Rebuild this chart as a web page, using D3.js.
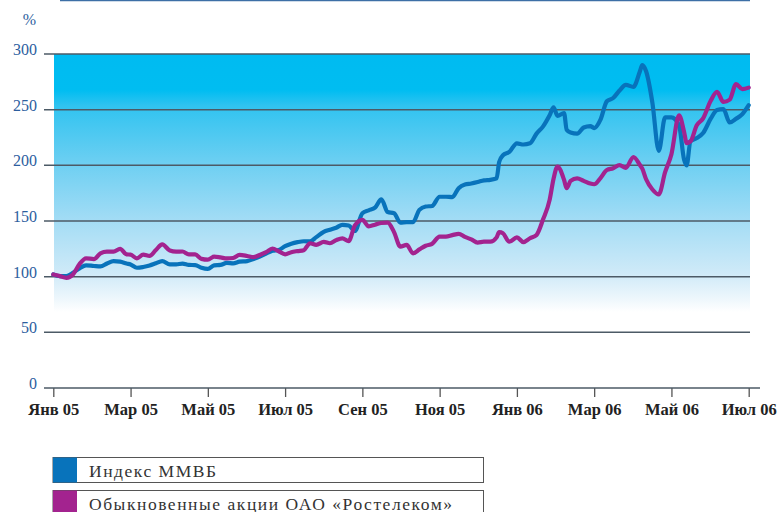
<!DOCTYPE html>
<html>
<head>
<meta charset="utf-8">
<script src="https://cdn.jsdelivr.net/npm/d3@7"></script>
<style>
  body { margin: 0; background: #fff; }
  svg { display: block; }
</style>
</head>
<body>
<svg id="chart" width="783" height="512"></svg>
<script>
// Observation dates shared by both series
const dates = [
  "2005-01-01","2005-01-06","2005-01-11","2005-01-16","2005-01-21","2005-01-26",
  "2005-02-01","2005-02-06","2005-02-11","2005-02-16","2005-02-21","2005-02-26",
  "2005-03-01","2005-03-06","2005-03-11","2005-03-16","2005-03-21","2005-03-26",
  "2005-04-01","2005-04-06","2005-04-11","2005-04-16","2005-04-21","2005-04-26",
  "2005-05-01","2005-05-06","2005-05-11","2005-05-16","2005-05-21","2005-05-26",
  "2005-06-01","2005-06-06","2005-06-11","2005-06-16","2005-06-21","2005-06-26",
  "2005-07-01","2005-07-06","2005-07-11","2005-07-16","2005-07-21","2005-07-26",
  "2005-08-01","2005-08-06","2005-08-11","2005-08-16","2005-08-21","2005-08-26",
  "2005-09-01","2005-09-06","2005-09-11","2005-09-16","2005-09-21","2005-09-26",
  "2005-10-01","2005-10-06","2005-10-11","2005-10-16","2005-10-21","2005-10-26",
  "2005-11-01","2005-11-06","2005-11-11","2005-11-16","2005-11-21","2005-11-26",
  "2005-12-01","2005-12-06","2005-12-11","2005-12-16","2005-12-18","2005-12-21","2005-12-26",
  "2006-01-01","2006-01-06","2006-01-11","2006-01-16","2006-01-21","2006-01-26","2006-01-29",
  "2006-02-01","2006-02-06","2006-02-08","2006-02-11","2006-02-16","2006-02-21","2006-02-26",
  "2006-03-01","2006-03-06","2006-03-11","2006-03-16","2006-03-21","2006-03-26",
  "2006-04-01","2006-04-06","2006-04-08","2006-04-11","2006-04-16","2006-04-21","2006-04-26",
  "2006-05-01","2006-05-07","2006-05-11","2006-05-13","2006-05-16","2006-05-21","2006-05-26",
  "2006-06-01","2006-06-06","2006-06-11","2006-06-16","2006-06-21","2006-06-26",
  "2006-07-01"
];

// Индекс ММВБ, % of the 1 Jan 2005 level
const micex = [
  102, 100.5, 100.5, 103.5, 107.5, 110.2,
  109.6, 109.2, 111.8, 114, 113.5, 111.8,
  111, 108, 108.7, 110, 112, 114,
  111, 111, 111.8, 110.6, 110.4, 108,
  107, 110.2, 110.6, 112.3, 112, 113.5,
  114, 115.8, 118, 120.7, 123.2, 124,
  127.4, 129.6, 131, 131.8, 131.7, 135.5,
  140.3, 142.2, 144, 146.6, 146, 141,
  157, 159.6, 162, 169.5, 158, 157,
  148.5, 149, 149, 160, 163, 163.5,
  171.8, 171.8, 171.5, 179.5, 182.8, 183.7,
  185, 186.5, 187, 188.3, 203, 209, 212,
  219.8, 218.7, 219.8, 228.5, 235, 245, 252,
  244.5, 247, 232, 229.5, 228.5, 234, 235.3,
  233.5, 241, 257.5, 260.5, 267.2, 272.3,
  270.5, 284, 290, 284.5, 256, 213, 243,
  243, 236, 205, 200, 221.5, 224.5, 229,
  241.9, 249.6, 250.5, 238.5, 241.8, 246,
  254
];

// Обыкновенные акции ОАО «Ростелеком», % of the 1 Jan 2005 level
const rostelecom = [
  102, 100.5, 99, 102, 111.3, 116.5,
  115.8, 121, 122.5, 122.5, 125, 120,
  119.8, 116.4, 119.8, 118.6, 124, 129,
  123.5, 122.5, 122.6, 120, 120, 116,
  115.3, 118, 117.3, 116.4, 116.8, 119.5,
  118.6, 117.5, 119.5, 122, 125.3, 122.8,
  120, 122, 123, 123.8, 130, 128.6,
  131.2, 130, 132.8, 134.4, 132, 146,
  151, 145.2, 146.7, 148.2, 148.5, 140,
  127, 128.5, 121, 124.5, 127.8, 129.5,
  136, 136, 137.3, 138.5, 135.7, 133.5,
  130.6, 131.4, 131.4, 135.3, 140, 139, 131.4,
  135.3, 131, 134.5, 137.5, 151.5, 169, 188,
  198.8, 187, 179.5, 186, 188.3, 186, 183.6,
  183, 188.6, 195.8, 197.4, 200.2, 197.8,
  207.5, 200.5, 197, 187.5, 178.3, 173.8, 193.8,
  210, 245, 230, 220, 221.5, 236, 242.2,
  258, 266, 257, 259, 273, 268.5,
  269.8
];

const tickDates = ["2005-01-01","2005-03-01","2005-05-01","2005-07-01","2005-09-01",
                   "2005-11-01","2006-01-01","2006-03-01","2006-05-01","2006-07-01"];
const tickLabels = ["Янв 05","Мар 05","Май 05","Июл 05","Сен 05",
                    "Ноя 05","Янв 06","Мар 06","Май 06","Июл 06"];
const yTicks = [0, 50, 100, 150, 200, 250, 300];
const yUnit = "%";
const seriesNames = ["Индекс ММВБ", "Обыкновенные акции ОАО «Ростелеком»"];
const seriesColors = ["#0873bb", "#a3238f"];

const parse = d3.timeParse("%Y-%m-%d");
const svg = d3.select("#chart");
const serif = "'Liberation Serif', 'DejaVu Serif', serif";

// Two-month ticks are evenly spaced, so the time scale is piecewise over them.
const xLeft = 53.3, xRight = 748.7;
const x = d3.scaleTime()
  .domain(tickDates.map(parse))
  .range(tickDates.map((d, i) => xLeft + i * (xRight - xLeft) / (tickDates.length - 1)));
const y = d3.scaleLinear().domain([0, 300]).range([388, 54]);

const plotLeft = 54, plotRight = 750, gridLeft = 44;

// thin rule across the top
svg.append("line")
  .attr("x1", 60).attr("x2", plotRight).attr("y1", 0.5).attr("y2", 0.5)
  .attr("stroke", "#3d6fa6").attr("stroke-width", 1.5);

// sky gradient behind the plot
const defs = svg.append("defs");
const grad = defs.append("linearGradient")
  .attr("id", "sky").attr("x1", 0).attr("y1", 0).attr("x2", 0).attr("y2", 1);
[[0, "#00bbf1"], [0.14, "#00bdf1"], [0.2, "#30c3f0"], [0.42, "#6ccff2"],
 [0.64, "#a2dcf5"], [0.85, "#cfeaf8"], [0.95, "#eef7fc"], [1, "#ffffff"]]
  .forEach(([o, c]) => grad.append("stop").attr("offset", o).attr("stop-color", c));

svg.append("rect")
  .attr("x", plotLeft).attr("y", y(300))
  .attr("width", plotRight - plotLeft).attr("height", 312 - y(300))
  .attr("fill", "url(#sky)");

// horizontal grid lines
svg.append("g").selectAll("line")
  .data(yTicks.filter(v => v > 0))
  .join("line")
  .attr("x1", gridLeft).attr("x2", plotRight)
  .attr("y1", d => y(d)).attr("y2", d => y(d))
  .attr("stroke", "#4c5a66").attr("stroke-width", 1.5);

// y labels
svg.append("g").selectAll("text")
  .data(yTicks)
  .join("text")
  .attr("x", 37).attr("y", d => y(d) + 1)
  .attr("text-anchor", "end")
  .attr("font-family", serif)
  .attr("font-size", 16)
  .attr("fill", "#2c5e9e")
  .text(d => d);

svg.append("text")
  .attr("x", 36).attr("y", 25)
  .attr("text-anchor", "end")
  .attr("font-family", serif)
  .attr("font-size", 16)
  .attr("fill", "#2c5e9e")
  .text(yUnit);

// x axis
const xAxis = d3.axisBottom(x)
  .tickValues(tickDates.map(parse))
  .tickFormat((d, i) => tickLabels[i])
  .tickSize(9)
  .tickPadding(6);

const gx = svg.append("g").attr("transform", `translate(0,${y(0)})`).call(xAxis);
gx.select(".domain").remove();
gx.selectAll(".tick line").attr("stroke", "#555").attr("stroke-width", 1.3);
gx.selectAll(".tick text")
  .attr("font-family", serif)
  .attr("font-size", 16.5)
  .attr("font-weight", "bold")
  .attr("fill", "#222");
svg.append("line")
  .attr("x1", gridLeft).attr("x2", 760).attr("y1", y(0)).attr("y2", y(0))
  .attr("stroke", "#4c5a66").attr("stroke-width", 1.5);

// series lines
const series = [micex, rostelecom].map((vals, i) => ({
  name: seriesNames[i],
  color: seriesColors[i],
  points: dates.map((d, j) => ({ date: parse(d), value: vals[j] }))
}));

const line = d3.line()
  .x(d => x(d.date))
  .y(d => y(d.value))
  .curve(d3.curveMonotoneX);

svg.append("g").selectAll("path")
  .data(series)
  .join("path")
  .attr("d", d => line(d.points))
  .attr("fill", "none")
  .attr("stroke", d => d.color)
  .attr("stroke-width", 4.2)
  .attr("stroke-linejoin", "round")
  .attr("stroke-linecap", "round");

// legend: the long label is set a little wider, as in the printed layout
const legend = svg.append("g");
const lgTop = [457.5, 490.5];
const lgTextWidth = [127, 363];
series.forEach((s, i) => {
  const g = legend.append("g").attr("transform", `translate(53,${lgTop[i]})`);
  g.append("rect")
    .attr("x", 0).attr("y", 0).attr("width", 430.5).attr("height", 25)
    .attr("fill", "#fff").attr("stroke", "#555").attr("stroke-width", 1);
  g.append("rect")
    .attr("x", 0).attr("y", 0).attr("width", 24).attr("height", 25)
    .attr("fill", s.color);
  g.append("text")
    .attr("x", 36).attr("y", 19)
    .attr("font-family", serif)
    .attr("font-size", 17.5)
    .attr("textLength", lgTextWidth[i])
    .attr("lengthAdjust", "spacing")
    .attr("fill", "#333")
    .text(s.name);
});
</script>
</body>
</html>
